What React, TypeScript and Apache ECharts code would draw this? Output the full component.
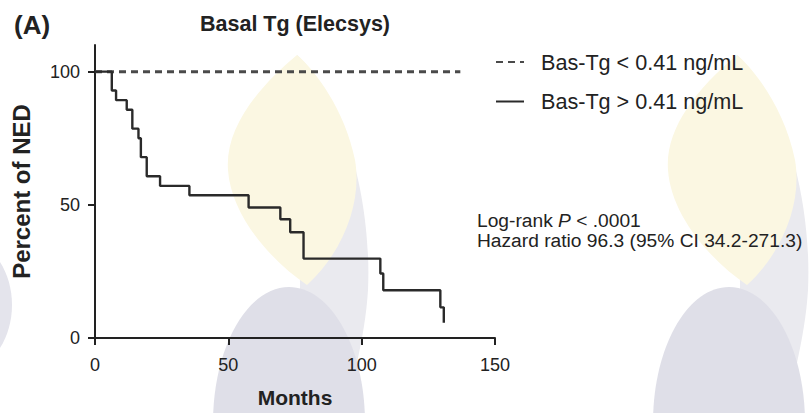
import React, { useEffect, useRef } from 'react';
import * as echarts from 'echarts';

// ---- data ----
const seriesNames = ['Bas-Tg < 0.41 ng/mL', 'Bas-Tg > 0.41 ng/mL'];
const monthsLow = [0, 137];
const pctLow = [100, 100];
const monthsHigh = [0, 6.3, 7.9, 11.9, 14.0, 16.3, 17.2, 19.4, 24.4, 35.4, 57.6, 69.5, 73.2, 78.2, 107.0, 108.1, 129.5, 130.8];
const pctHigh = [100, 92.9, 89.3, 85.7, 78.6, 75.0, 67.9, 60.7, 57.1, 53.6, 49.0, 44.6, 39.7, 29.8, 24.2, 17.9, 11.5, 5.7];
const xTicks = [0, 50, 100, 150];
const yTicks = [0, 50, 100];
const titleText = 'Basal Tg (Elecsys)';
const panelText = '(A)';
const xName = 'Months';
const yName = 'Percent of NED';
const statLine2 = 'Hazard ratio 96.3 (95% CI 34.2-271.3)';

const FONT = '"Liberation Sans", Arial, Helvetica, sans-serif';
const INK = '#222';

const yellowD = 'M0 0 C-42 35 -72 75 -69 115 C-66 160 -27 205 10 230 C48 195 65 145 58 105 C48 55 18 15 0 0 Z';
const tailD = 'M0 0 C48 45 75 145 71 235 C68 285 53 335 48 358 L3 358 L3 230 Z';

export default function App() {
  const ref = useRef<HTMLDivElement>(null);
  useEffect(() => {
    echarts.graphic.registerShape('flameYellow', echarts.graphic.extendPath(yellowD, {}));
    echarts.graphic.registerShape('flameTail', echarts.graphic.extendPath(tailD, {}));
    const chart = echarts.init(ref.current as HTMLDivElement, null, { renderer: 'svg' });

    const watermark = (ox: number, oy: number) => [
      { type: 'flameTail', x: ox, y: oy, z: -10, silent: true, style: { fill: '#EAEAEF' } },
      { type: 'ellipse', shape: { cx: ox - 8, cy: oy + 368, rx: 76, ry: 136 }, z: -10, silent: true, style: { fill: '#DFDFE8' } },
      { type: 'flameYellow', x: ox, y: oy, z: -10, silent: true, style: { fill: '#FBF7E2' } },
    ];

    const option: any = {
      animation: false,
      backgroundColor: '#ffffff',
      title: [
        { text: panelText, left: 14, top: 12, padding: 0, textStyle: { fontSize: 26, fontWeight: 'bold', color: INK, fontFamily: FONT, lineHeight: 26 } },
        { text: titleText, left: 295, textAlign: 'center', top: 13, padding: 0, textStyle: { fontSize: 21.5, fontWeight: 'bold', color: INK, fontFamily: FONT, lineHeight: 22 } },
      ],
      legend: {
        orient: 'vertical',
        left: 495,
        top: 51,
        itemWidth: 28,
        itemHeight: 14,
        itemGap: 17.5,
        padding: 0,
        data: seriesNames,
        itemStyle: { opacity: 0 },
        textStyle: { fontSize: 21.6, color: INK, fontFamily: FONT, lineHeight: 22, padding: [0, 0, 0, 12] },
      },
      grid: { left: 95, right: 315, top: 45, bottom: 71, containLabel: false },
      xAxis: {
        type: 'value',
        min: 0,
        max: 150,
        interval: 50,
        name: xName,
        nameLocation: 'middle',
        nameGap: 49,
        nameTextStyle: { fontSize: 21, fontWeight: 'bold', color: INK, fontFamily: FONT },
        axisLine: { show: true, lineStyle: { color: INK, width: 2 } },
        axisTick: { show: true, length: 7, lineStyle: { color: INK, width: 2 }, customValues: xTicks },
        axisLabel: { fontSize: 18, color: INK, margin: 18, fontFamily: FONT, customValues: xTicks },
        splitLine: { show: false },
      },
      yAxis: {
        type: 'value',
        min: 0,
        max: 110,
        name: yName,
        nameLocation: 'middle',
        nameGap: 62,
        nameTextStyle: { fontSize: 24, fontWeight: 'bold', color: INK, fontFamily: FONT },
        axisLine: { show: true, lineStyle: { color: INK, width: 2 } },
        axisTick: { show: true, length: 7, lineStyle: { color: INK, width: 2 }, customValues: yTicks },
        axisLabel: { fontSize: 18, color: INK, margin: 15, fontFamily: FONT, customValues: yTicks },
        splitLine: { show: false },
      },
      series: [
        {
          name: seriesNames[0],
          type: 'line',
          data: monthsLow.map((m, i) => [m, pctLow[i]]),
          symbol: 'none',
          showSymbol: false,
          lineStyle: { color: '#4a4a4a', width: 3, type: [7, 5] },
          itemStyle: { color: '#4a4a4a' },
          z: 2,
        },
        {
          name: seriesNames[1],
          type: 'line',
          step: 'end',
          data: monthsHigh.map((m, i) => [m, pctHigh[i]]),
          symbol: 'none',
          showSymbol: false,
          lineStyle: { color: '#2a2a2a', width: 2.4 },
          itemStyle: { color: '#2a2a2a' },
          z: 3,
        },
      ],
      graphic: [
        ...watermark(297, 55),
        ...watermark(737, 55),
        { type: 'ellipse', shape: { cx: -45, cy: 305, rx: 57, ry: 70 }, z: -10, silent: true, style: { fill: '#E4E4EC' } },
        {
          type: 'text',
          x: 477,
          y: 220,
          style: {
            text: '{n|Log-rank }{i|P}{n| < .0001}',
            verticalAlign: 'middle',
            align: 'left',
            fill: INK,
            fontSize: 19.2,
            fontFamily: FONT,
            rich: {
              n: { fontSize: 19.2, fontFamily: FONT, fill: INK, color: INK },
              i: { fontSize: 19.2, fontFamily: FONT, fontStyle: 'italic', fill: INK, color: INK },
            },
          },
        },
        {
          type: 'text',
          x: 477,
          y: 240,
          style: { text: statLine2, verticalAlign: 'middle', align: 'left', fill: INK, fontSize: 19.2, fontFamily: FONT },
        },
      ],
    };
    chart.setOption(option);
    return () => {
      chart.dispose();
    };
  }, []);
  return <div ref={ref} style={{ position: 'fixed', left: 0, top: 0, width: 810, height: 413 }} />;
}
